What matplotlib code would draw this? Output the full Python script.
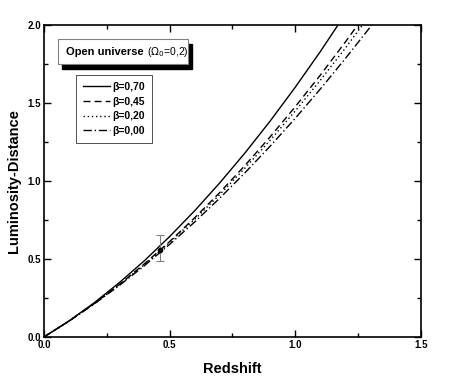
import matplotlib
matplotlib.use('Agg')
import matplotlib.pyplot as plt
from matplotlib.patches import Rectangle

plt.rcParams['font.family'] = ['Liberation Sans', 'DejaVu Sans']

#redshift grid and luminosity distance
z = [0.0, 0.1, 0.2, 0.3, 0.4, 0.5, 0.6, 0.7, 0.8, 0.9, 1.0, 1.1, 1.2, 1.3, 1.4]
d_070 = [0.0, 0.103, 0.219, 0.348, 0.489, 0.643, 0.809, 0.988, 1.179, 1.383, 1.600, 1.829, 2.071, 2.326, 2.59]
d_045 = [0.0, 0.102, 0.214, 0.336, 0.469, 0.611, 0.764, 0.926, 1.099, 1.282, 1.475, 1.678, 1.891, 2.114, 2.348]
d_020 = [0.0, 0.102, 0.213, 0.334, 0.464, 0.605, 0.754, 0.913, 1.082, 1.260, 1.448, 1.645, 1.852, 2.069, 2.295]
d_000 = [0.0, 0.101, 0.211, 0.330, 0.457, 0.593, 0.737, 0.890, 1.052, 1.222, 1.401, 1.589, 1.785, 1.989, 2.203]
labels = ['\u03b2=0,70', '\u03b2=0,45', '\u03b2=0,20', '\u03b2=0,00']

#the single observed point
z_obs = [0.46]
d_obs = [0.555]
err_lo = [0.07]
err_hi = [0.095]

fig = plt.figure(figsize=(4.63, 3.82), dpi=100)
ax = fig.add_axes([0.095, 0.118, 0.814, 0.817])

ax.plot(z, d_070, color='black', lw=1.0, ls='-', label=labels[0])
ax.plot(z, d_045, color='black', lw=1.0, ls=(0, (5, 3)), label=labels[1])
ax.plot(z, d_020, color='black', lw=1.0, ls=(0, (1, 2)), label=labels[2])
ax.plot(z, d_000, color='black', lw=1.0, ls=(0, (6, 2, 1, 2)), label=labels[3])

ax.errorbar(z_obs, d_obs, yerr=[err_lo, err_hi], fmt='o', ms=3, color='black',
            ecolor='gray', elinewidth=0.8, capsize=3, capthick=0.8)

ax.set_xlim(0, 1.5)
ax.set_ylim(0, 2.0)
ax.set_xticks([0.0, 0.5, 1.0, 1.5])
ax.set_yticks([0.0, 0.5, 1.0, 1.5, 2.0])
ax.set_xticks([0.25, 0.75, 1.25], minor=True)
ax.set_yticks([0.25, 0.75, 1.25, 1.75], minor=True)
ax.tick_params(which='both', direction='in', top=True, right=True, width=1.0)
ax.tick_params(which='major', length=5, labelsize=7, pad=2)
ax.tick_params(which='minor', length=3)
for lab in ax.get_xticklabels() + ax.get_yticklabels():
    lab.set_fontweight('bold')
for s in ax.spines.values():
    s.set_linewidth(1.2)

ax.set_xlabel('Redshift', fontsize=10.5, fontweight='bold', labelpad=9)
ax.set_ylabel('Luminosity-Distance', fontsize=10.5, fontweight='bold', labelpad=5)

#title box with a drop shadow
bx, by, bw, bh = 0.037, 0.876, 0.345, 0.077
ax.add_patch(Rectangle((bx + 0.01, by - 0.016), bw, bh, transform=ax.transAxes,
                       facecolor='black', edgecolor='black', zorder=5))
ax.add_patch(Rectangle((bx, by), bw, bh, transform=ax.transAxes,
                       facecolor='white', edgecolor='gray', lw=0.8, zorder=6))
t1 = ax.text(bx + 0.022, by + bh / 2, 'Open universe ', transform=ax.transAxes,
             fontsize=8, fontweight='bold', va='center', ha='left', zorder=7)
ax.annotate(r'($\Omega_0$=0,2)', xy=(1, 0.5), xycoords=t1, fontsize=7.5,
            va='center', ha='left', zorder=7)

leg = ax.legend(loc='upper left', bbox_to_anchor=(0.085, 0.84), fontsize=7.5,
                frameon=True, fancybox=False, handlelength=2.6, handletextpad=0.2,
                borderpad=0.7, labelspacing=0.45, borderaxespad=0)
leg.get_frame().set_edgecolor('black')
leg.get_frame().set_linewidth(0.6)
for t in leg.get_texts():
    t.set_fontweight('bold')

fig.savefig('out.png', dpi=100)
